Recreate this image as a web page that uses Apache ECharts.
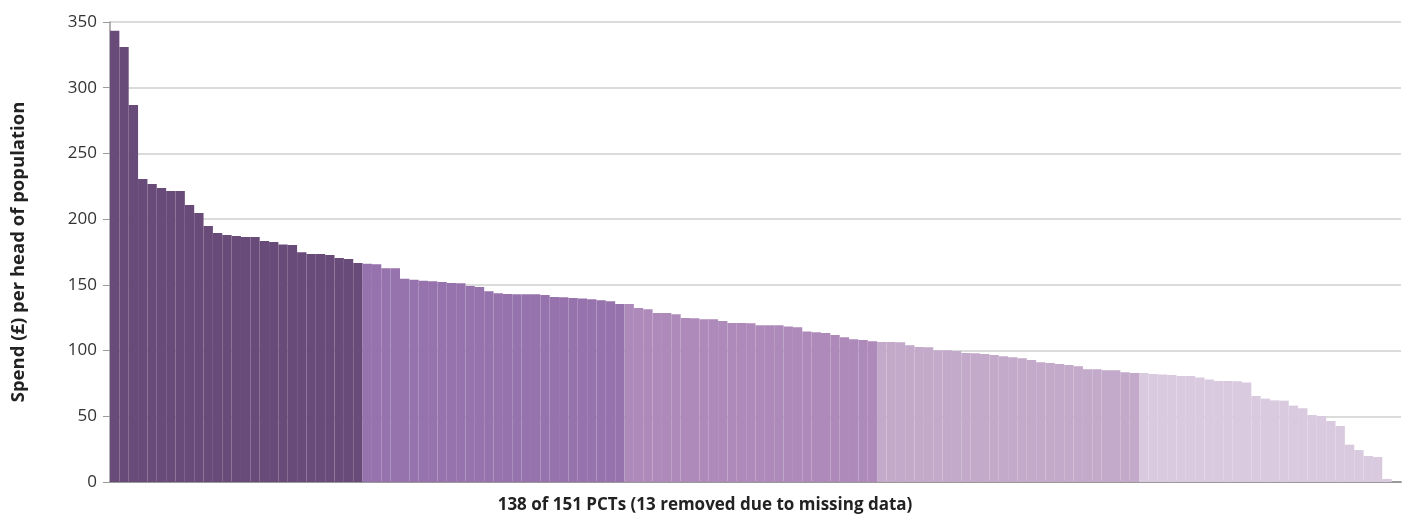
<!DOCTYPE html>
<html>
<head>
<meta charset="utf-8">
<script src="https://cdn.jsdelivr.net/npm/echarts@6/dist/echarts.min.js"></script>
<style>
* { margin: 0; padding: 0; }
body { background: #fff; }
</style>
</head>
<body>
<div id="main" style="width:1410px;height:515px;"></div>
<script>
// spend (£) per head, PCTs sorted high -> low (last slot is empty)
var spend = [
  343.4, 331, 286.8, 230.5, 226.7, 223.7, 221.4, 221.4, 210.8, 204.7,
  194.8, 189.5, 187.9, 187.2, 186.4, 186.4, 183.4, 182.6, 180.8, 180.3,
  174.8, 173.5, 173.5, 172.7, 170.4, 169.7, 166.6, 166.1, 165.6, 162.6,
  162.6, 154.7, 153.9, 153.2, 152.7, 152.2, 151.4, 151.2, 149.1, 148.4,
  145.1, 143.6, 143.0, 142.8, 142.8, 142.8, 142.3, 140.8, 140.5, 140,
  139.7, 139, 138.2, 137.5, 135.4, 135.4, 132.4, 131.4, 128.6, 128.6,
  127.6, 124.8, 124.5, 123.8, 123.8, 122.5, 121, 121, 120.7, 119.2,
  119.2, 119.2, 118.4, 117.7, 114.6, 113.9, 113.4, 111.8, 110.1, 108.6,
  108, 107, 106.5, 106.5, 106.3, 104, 102.7, 102.5, 100.2, 100.2,
  99.7, 98.2, 97.9, 97.4, 96.6, 95.6, 94.9, 94.1, 92.8, 91.1,
  90.5, 89.8, 89, 88, 85.7, 85.7, 85, 85, 83.5, 82.9,
  82.9, 82.2, 81.7, 81.4, 80.7, 80.7, 79.6, 77.9, 76.8, 76.8,
  76.6, 75.8, 65.4, 63.4, 62.1, 61.9, 58.1, 56.1, 51, 50.2,
  46.4, 42.6, 28.4, 24.3, 19.8, 19, 2.3, 0
];
// number of PCTs in each quintile band
var bandSizes = [27, 28, 27, 28, 28];
var bandColors = ["#694b7a", "#9773ad", "#ae8aba", "#c3aaca", "#d9cadf"];
var yTicks = [0, 50, 100, 150, 200, 250, 300, 350];

var pcts = spend.map(function (v, i) { return "PCT " + (i + 1); });

function bandOf(idx) {
  var acc = 0;
  for (var b = 0; b < bandSizes.length; b++) {
    acc += bandSizes[b];
    if (idx < acc) return b;
  }
  return bandSizes.length - 1;
}

var chart = echarts.init(document.getElementById("main"));
chart.setOption({
  animation: false,
  textStyle: { fontFamily: "Open Sans" },
  title: {
    text: "138 of 151 PCTs (13 removed due to missing data)",
    left: "center",
    top: 492,
    textStyle: { fontSize: 17, fontWeight: "bold", color: "#222", fontFamily: "Open Sans" }
  },
  grid: { left: 110, right: 9, top: 22, bottom: 33, containLabel: false },
  xAxis: {
    type: "category",
    data: pcts,
    axisLine: { show: true, lineStyle: { color: "#9a9a9a", width: 2 } },
    axisTick: { show: false },
    axisLabel: { show: false }
  },
  yAxis: {
    type: "value",
    min: yTicks[0],
    max: yTicks[yTicks.length - 1],
    interval: 50,
    name: "Spend (£) per head of population",
    nameLocation: "middle",
    nameGap: 82,
    nameTextStyle: { fontSize: 18.5, fontWeight: "bold", color: "#222" },
    axisLine: { show: true, lineStyle: { color: "#9a9a9a", width: 1.5 } },
    axisTick: { show: true, length: 7, lineStyle: { color: "#9a9a9a" } },
    axisLabel: { fontSize: 17, color: "#333", margin: 13 },
    splitLine: { lineStyle: { color: "#cfcfcf", width: 1.5 } }
  },
  series: [{
    type: "bar",
    data: spend,
    barCategoryGap: "0%",
    itemStyle: {
      color: function (p) { return bandColors[bandOf(p.dataIndex)]; }
    }
  }]
});
</script>
</body>
</html>
